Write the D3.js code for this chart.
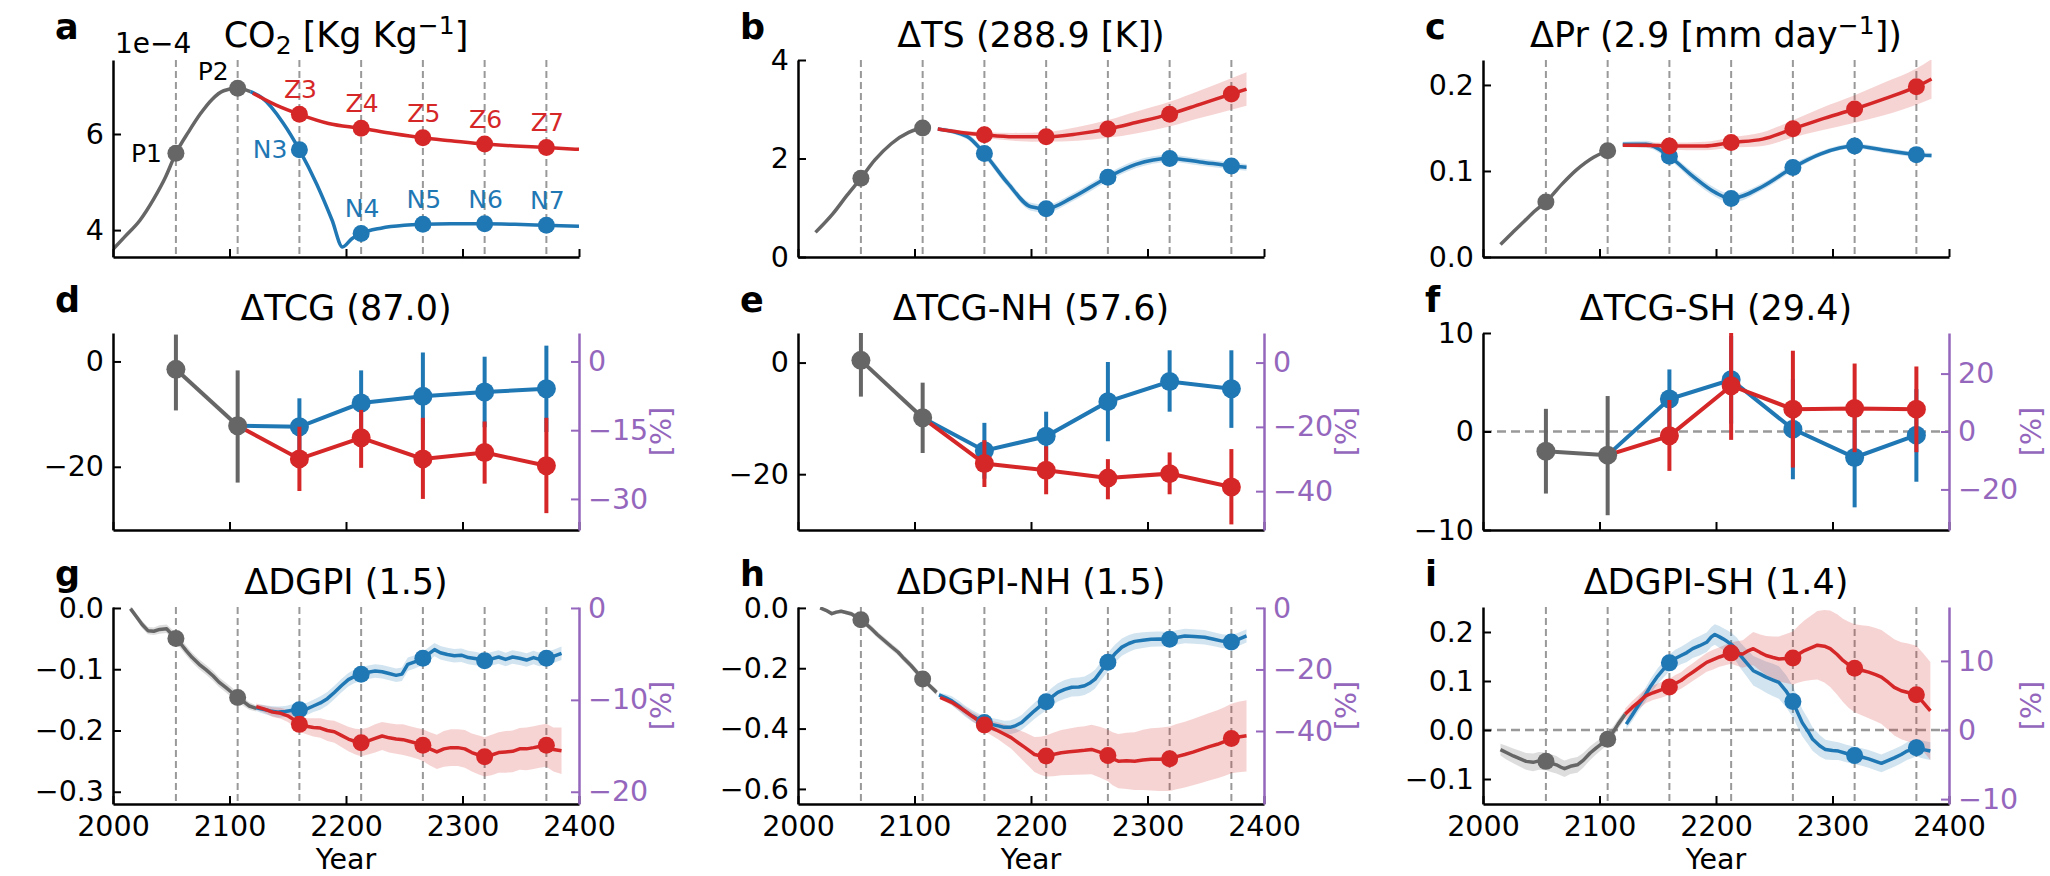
<!DOCTYPE html>
<html lang="en">
<head>
<meta charset="UTF-8">
<title>CO2 pathways: TS, Pr, TCG and DGPI</title>
<script src="https://d3js.org/d3.v7.min.js"></script>
<style>
  body { margin: 0; padding: 0; background: #fff; }
  svg { display: block; font-family: "DejaVu Sans", sans-serif; }
  .axis path, .axis line { stroke: #000; }
  .axis path { stroke-width: 2.5px; }
  .axis line { stroke-width: 2px; }
  .axis text { font-family: "DejaVu Sans", sans-serif; font-size: 28.5px; fill: #000; }
  .axis.pct path, .axis.pct line { stroke: #9467bd; }
  .axis.pct text { fill: #9467bd; }
</style>
</head>
<body>
<svg id="fig" width="2050" height="876"></svg>
<script>
// years of the marked 30-yr windows (P1, P2, 3..7)
const markYears = [2054, 2107, 2160, 2213, 2266, 2319, 2372];
const xTicks = [2000, 2100, 2200, 2300, 2400];

// a: CO2 [x1e-4 Kg/Kg]  [year, value]
const co2Gray = [[2000,3.6],[2010,3.86],[2023,4.2],[2035,4.65],[2045,5.1],[2054,5.6],[2065,6.05],[2075,6.42],[2085,6.72],[2095,6.9],[2107,6.95],[2118,6.88]];
const co2Red = [[2120,6.85],[2140,6.6],[2160,6.41],[2185,6.22],[2213,6.12],[2240,6.01],[2266,5.92],[2290,5.86],[2319,5.79],[2345,5.75],[2372,5.72],[2400,5.68]];
const co2Blue = [[2118,6.88],[2128,6.75],[2146,6.23],[2160,5.67],[2175,4.95],[2188,4.21],[2197,3.65],[2205,3.82],[2213,3.93],[2230,4.04],[2250,4.1],[2266,4.12],[2290,4.13],[2319,4.13],[2345,4.12],[2372,4.1],[2400,4.08]];
const co2GrayTags = ["P1", "P2"];
const co2RedTags = ["Z3", "Z4", "Z5", "Z6", "Z7"];
const co2BlueTags = ["N3", "N4", "N5", "N6", "N7"];

// b: surface temperature change [K]  [year, value, spread]
const tsGray = [[2015,0.5],[2030,0.88],[2042,1.25],[2054,1.6],[2066,1.97],[2080,2.3],[2095,2.53],[2107,2.62],[2114,2.63]];
const tsRed = [[2120,2.6,0.02],[2140,2.53,0.04],[2160,2.48,0.06],[2185,2.44,0.08],[2213,2.44,0.1],[2240,2.5,0.14],[2266,2.6,0.18],[2290,2.73,0.22],[2319,2.9,0.25],[2345,3.1,0.28],[2372,3.31,0.32],[2385,3.41,0.34]];
const tsBlue = [[2120,2.6,0.04],[2145,2.45,0.06],[2160,2.1,0.08],[2180,1.5,0.08],[2200,1.02,0.08],[2213,0.98,0.08],[2235,1.2,0.08],[2266,1.62,0.08],[2290,1.88,0.08],[2319,2.0,0.07],[2345,1.93,0.07],[2372,1.85,0.07],[2385,1.82,0.07]];

// c: precipitation change [mm/day]
const prGray = [[2015,0.0145],[2025,0.028],[2035,0.041],[2045,0.054],[2054,0.064],[2068,0.085],[2080,0.101],[2095,0.116],[2107,0.1235],[2113,0.127]];
const prRed = [[2120,0.13,0.002],[2140,0.13,0.003],[2160,0.129,0.004],[2190,0.129,0.005],[2213,0.133,0.006],[2240,0.137,0.008],[2266,0.149,0.01],[2290,0.16,0.013],[2319,0.172,0.016],[2345,0.184,0.019],[2372,0.198,0.021],[2385,0.207,0.023]];
const prBlue = [[2120,0.131,0.003],[2140,0.131,0.004],[2160,0.117,0.004],[2180,0.094,0.005],[2200,0.0745,0.005],[2213,0.068,0.005],[2240,0.082,0.004],[2266,0.104,0.004],[2290,0.12,0.003],[2319,0.129,0.003],[2345,0.124,0.003],[2372,0.119,0.003],[2385,0.118,0.003]];

// d-f: tropical cyclone genesis  [year, mean, low, high]
const tcgGray = [[2054,-1.5,-9.3,5.1],[2107,-12.2,-23.0,-1.7]];
const tcgBlue = [[2160,-12.4,-17.8,-7.0],[2213,-7.9,-14.1,-1.7],[2266,-6.6,-14.9,1.7],[2319,-5.8,-12.5,0.9],[2372,-5.2,-13.4,3.0]];
const tcgRed = [[2160,-18.5,-24.6,-12.4],[2213,-14.5,-20.2,-9.2],[2266,-18.5,-26.1,-10.7],[2319,-17.3,-23.2,-11.4],[2372,-19.8,-28.8,-10.7]];
const nhGray = [[2054,0.4,-6.1,6.6],[2107,-9.9,-16.2,-3.6]];
const nhBlue = [[2160,-15.8,-20.8,-10.8],[2213,-13.2,-17.6,-8.8],[2266,-7.0,-14.1,0.1],[2319,-3.4,-8.8,2.2],[2372,-4.7,-11.7,2.2]];
const nhRed = [[2160,-18.1,-22.3,-13.9],[2213,-19.3,-23.6,-15.0],[2266,-20.7,-24.5,-17.3],[2319,-19.9,-23.6,-16.1],[2372,-22.3,-29.0,-15.5]];
const shGray = [[2054,-2.0,-6.3,2.3],[2107,-2.4,-8.5,3.6]];
const shBlue = [[2160,3.3,0.3,6.3],[2213,5.25,0.8,9.7],[2266,0.24,-4.85,5.3],[2319,-2.64,-7.7,2.4],[2372,-0.37,-5.1,4.3]];
const shRed = [[2160,-0.44,-4.0,3.2],[2213,4.65,-0.85,10.2],[2266,2.27,-3.66,8.2],[2319,2.34,-2.1,6.9],[2372,2.27,-2.1,6.6]];

// g-i: DGPI running means  [year, value, spread]
const gpGray = [[2015,-0.001,0.004],[2020,-0.014,0.005],[2025,-0.027,0.006],[2030,-0.037,0.006],[2035,-0.038,0.006],[2040,-0.035,0.007],[2046,-0.034,0.007],[2050,-0.042,0.008],[2054,-0.05,0.008],[2058,-0.058,0.008],[2063,-0.07,0.008],[2068,-0.081,0.008],[2074,-0.092,0.008],[2080,-0.101,0.008],[2086,-0.111,0.008],[2091,-0.121,0.008],[2097,-0.13,0.008],[2102,-0.138,0.008],[2107,-0.146,0.008],[2112,-0.153,0.007],[2117,-0.16,0.006],[2123,-0.164,0.005]];
const gpBlue = [[2123,-0.163,0.005],[2128,-0.165,0.007],[2135,-0.168,0.008],[2142,-0.17,0.009],[2148,-0.169,0.009],[2154,-0.167,0.01],[2160,-0.166,0.01],[2166,-0.165,0.01],[2172,-0.16,0.01],[2178,-0.155,0.011],[2184,-0.148,0.011],[2190,-0.138,0.011],[2196,-0.127,0.011],[2202,-0.117,0.011],[2207,-0.112,0.011],[2213,-0.108,0.011],[2219,-0.105,0.011],[2225,-0.103,0.011],[2231,-0.104,0.011],[2237,-0.107,0.011],[2243,-0.11,0.011],[2248,-0.108,0.011],[2253,-0.092,0.011],[2259,-0.088,0.011],[2266,-0.082,0.011],[2271,-0.075,0.011],[2276,-0.068,0.011],[2281,-0.073,0.011],[2287,-0.076,0.011],[2293,-0.078,0.011],[2299,-0.077,0.011],[2305,-0.081,0.011],[2312,-0.083,0.011],[2319,-0.086,0.011],[2325,-0.083,0.011],[2331,-0.08,0.011],[2337,-0.084,0.011],[2343,-0.08,0.011],[2349,-0.082,0.011],[2355,-0.085,0.011],[2361,-0.081,0.011],[2366,-0.084,0.011],[2372,-0.082,0.011],[2378,-0.079,0.011],[2385,-0.074,0.011]];
const gpRed = [[2123,-0.161,0.005],[2130,-0.165,0.006],[2137,-0.17,0.008],[2144,-0.172,0.009],[2150,-0.176,0.01],[2155,-0.182,0.011],[2160,-0.19,0.012],[2166,-0.193,0.013],[2172,-0.195,0.015],[2178,-0.196,0.016],[2184,-0.2,0.017],[2190,-0.202,0.018],[2196,-0.208,0.019],[2202,-0.214,0.02],[2208,-0.218,0.021],[2213,-0.22,0.022],[2219,-0.217,0.022],[2225,-0.213,0.023],[2231,-0.209,0.023],[2237,-0.212,0.024],[2243,-0.214,0.024],[2249,-0.215,0.025],[2255,-0.218,0.025],[2261,-0.221,0.025],[2266,-0.224,0.026],[2272,-0.23,0.027],[2278,-0.235,0.028],[2284,-0.23,0.029],[2290,-0.228,0.03],[2296,-0.228,0.03],[2302,-0.23,0.031],[2308,-0.236,0.031],[2314,-0.24,0.032],[2319,-0.243,0.032],[2325,-0.24,0.033],[2331,-0.236,0.033],[2337,-0.235,0.034],[2343,-0.234,0.034],[2349,-0.23,0.034],[2355,-0.23,0.035],[2361,-0.228,0.035],[2366,-0.226,0.035],[2372,-0.224,0.035],[2378,-0.231,0.036],[2385,-0.233,0.038]];

const nhgpGray = [[2019,0.0,0.004],[2024,-0.008,0.005],[2029,-0.019,0.006],[2033,-0.014,0.006],[2037,-0.011,0.006],[2042,-0.016,0.007],[2046,-0.02,0.008],[2050,-0.03,0.009],[2054,-0.039,0.01],[2058,-0.052,0.01],[2063,-0.069,0.011],[2068,-0.088,0.011],[2074,-0.108,0.011],[2080,-0.128,0.011],[2086,-0.147,0.011],[2091,-0.168,0.011],[2097,-0.191,0.011],[2102,-0.213,0.011],[2107,-0.236,0.011],[2113,-0.258,0.01],[2119,-0.28,0.01]];
const nhgpBlue = [[2121,-0.288,0.008],[2127,-0.298,0.012],[2132,-0.308,0.015],[2138,-0.325,0.017],[2143,-0.341,0.018],[2149,-0.357,0.019],[2155,-0.37,0.02],[2160,-0.38,0.02],[2166,-0.386,0.021],[2172,-0.391,0.022],[2177,-0.396,0.022],[2182,-0.396,0.023],[2187,-0.39,0.024],[2192,-0.38,0.025],[2197,-0.362,0.026],[2203,-0.341,0.027],[2208,-0.325,0.028],[2213,-0.311,0.029],[2218,-0.295,0.03],[2223,-0.28,0.03],[2229,-0.27,0.031],[2235,-0.263,0.031],[2241,-0.262,0.031],[2246,-0.258,0.031],[2251,-0.248,0.031],[2255,-0.236,0.031],[2260,-0.21,0.031],[2266,-0.18,0.031],[2272,-0.152,0.03],[2278,-0.13,0.029],[2284,-0.118,0.028],[2289,-0.111,0.027],[2296,-0.107,0.026],[2303,-0.104,0.025],[2310,-0.103,0.025],[2319,-0.104,0.024],[2325,-0.098,0.024],[2332,-0.093,0.024],[2340,-0.095,0.024],[2349,-0.097,0.024],[2356,-0.103,0.023],[2364,-0.11,0.023],[2372,-0.113,0.023],[2378,-0.104,0.022],[2385,-0.093,0.022]];
const nhgpRed = [[2122,-0.297,0.006],[2127,-0.305,0.008],[2132,-0.313,0.01],[2138,-0.328,0.012],[2143,-0.341,0.013],[2149,-0.358,0.015],[2155,-0.374,0.017],[2160,-0.388,0.02],[2166,-0.398,0.024],[2172,-0.408,0.028],[2177,-0.418,0.032],[2183,-0.43,0.037],[2189,-0.447,0.043],[2195,-0.463,0.05],[2203,-0.486,0.058],[2208,-0.49,0.063],[2213,-0.491,0.068],[2219,-0.486,0.072],[2226,-0.48,0.075],[2233,-0.477,0.077],[2240,-0.474,0.079],[2246,-0.472,0.08],[2252,-0.469,0.082],[2259,-0.478,0.084],[2266,-0.489,0.086],[2270,-0.5,0.088],[2275,-0.508,0.09],[2282,-0.507,0.093],[2289,-0.508,0.096],[2296,-0.504,0.1],[2303,-0.502,0.103],[2310,-0.502,0.105],[2319,-0.5,0.107],[2325,-0.493,0.108],[2332,-0.486,0.109],[2339,-0.478,0.11],[2346,-0.469,0.111],[2353,-0.46,0.112],[2360,-0.452,0.113],[2366,-0.443,0.114],[2372,-0.433,0.115],[2378,-0.428,0.117],[2385,-0.424,0.118]];

const shgpGray = [[2015,-0.04,0.012],[2020,-0.046,0.014],[2026,-0.053,0.015],[2031,-0.058,0.016],[2037,-0.064,0.017],[2043,-0.066,0.018],[2048,-0.063,0.018],[2054,-0.064,0.018],[2059,-0.068,0.018],[2063,-0.071,0.018],[2067,-0.076,0.017],[2070,-0.079,0.017],[2075,-0.074,0.016],[2081,-0.071,0.016],[2086,-0.062,0.015],[2092,-0.047,0.014],[2097,-0.037,0.013],[2102,-0.028,0.012],[2107,-0.019,0.012],[2112,-0.003,0.011],[2116,0.012,0.01],[2122,0.032,0.009]];
const shgpBlue = [[2123,0.012,0.01],[2128,0.03,0.012],[2133,0.049,0.013],[2139,0.07,0.014],[2144,0.09,0.015],[2150,0.11,0.016],[2155,0.124,0.017],[2160,0.137,0.017],[2165,0.146,0.018],[2170,0.152,0.018],[2175,0.158,0.019],[2180,0.166,0.019],[2186,0.172,0.02],[2192,0.179,0.02],[2196,0.19,0.02],[2199,0.195,0.021],[2203,0.19,0.022],[2206,0.186,0.022],[2210,0.18,0.023],[2214,0.173,0.024],[2218,0.163,0.025],[2221,0.152,0.026],[2227,0.135,0.028],[2232,0.121,0.03],[2238,0.114,0.031],[2243,0.108,0.032],[2249,0.102,0.033],[2254,0.097,0.033],[2260,0.08,0.033],[2266,0.058,0.032],[2270,0.036,0.03],[2274,0.015,0.028],[2279,-0.003,0.026],[2283,-0.019,0.024],[2289,-0.032,0.022],[2294,-0.04,0.02],[2300,-0.042,0.019],[2305,-0.043,0.018],[2312,-0.048,0.018],[2319,-0.052,0.018],[2325,-0.055,0.018],[2331,-0.059,0.018],[2337,-0.064,0.018],[2342,-0.068,0.018],[2348,-0.062,0.018],[2353,-0.057,0.018],[2359,-0.05,0.018],[2364,-0.043,0.018],[2372,-0.036,0.018],[2378,-0.04,0.018],[2384,-0.043,0.018]];
const shgpRed = [[2122,0.032,0.012],[2128,0.046,0.013],[2133,0.056,0.014],[2140,0.07,0.015],[2146,0.076,0.015],[2153,0.082,0.016],[2160,0.088,0.016],[2165,0.095,0.017],[2170,0.101,0.017],[2175,0.11,0.018],[2180,0.118,0.018],[2186,0.128,0.019],[2192,0.138,0.019],[2197,0.143,0.02],[2203,0.149,0.02],[2208,0.153,0.021],[2213,0.157,0.022],[2218,0.156,0.025],[2223,0.155,0.028],[2228,0.162,0.031],[2232,0.166,0.034],[2238,0.158,0.037],[2243,0.152,0.04],[2249,0.148,0.043],[2254,0.145,0.046],[2260,0.146,0.05],[2266,0.147,0.054],[2271,0.155,0.058],[2276,0.162,0.062],[2282,0.168,0.066],[2287,0.173,0.07],[2293,0.171,0.074],[2298,0.166,0.078],[2304,0.154,0.082],[2309,0.142,0.085],[2314,0.133,0.088],[2319,0.126,0.09],[2325,0.122,0.092],[2331,0.118,0.094],[2337,0.113,0.095],[2342,0.108,0.096],[2348,0.097,0.097],[2353,0.087,0.098],[2359,0.08,0.099],[2364,0.077,0.1],[2372,0.072,0.1],[2378,0.056,0.1],[2384,0.039,0.1]];

const COL = { gray: "#666666", red: "#d62728", blue: "#1f77b4", purple: "#9467bd", guide: "#999999" };
const colX = [113, 798, 1483];
const rowY = [60, 333, 607];
const W = 466, H = 197;

const panels = [
  { id: "a", col: 0, row: 0, title: [["CO"], ["2", "sub"], [" [Kg Kg"], ["\u22121", "sup"], ["]"]],
    yDomain: [3.44, 7.54], yTicks: [4, 6], yFmt: "d", kind: "smooth", guides: true,
    gray: co2Gray, blue: co2Blue, red: co2Red },
  { id: "b", col: 1, row: 0, title: [["\u0394TS (288.9 [K])"]],
    yDomain: [0, 4], yTicks: [0, 2, 4], yFmt: "d", kind: "smooth", guides: true,
    gray: tsGray, blue: tsBlue, red: tsRed },
  { id: "c", col: 2, row: 0, title: [["\u0394Pr (2.9 [mm day"], ["\u22121", "sup"], ["])"]],
    yDomain: [0, 0.229], yTicks: [0, 0.1, 0.2], yFmt: ".1f", kind: "smooth", guides: true,
    gray: prGray, blue: prBlue, red: prRed },
  { id: "d", col: 0, row: 1, title: [["\u0394TCG (87.0)"]],
    yDomain: [-32, 5.4], yTicks: [-20, 0], yFmt: "d", kind: "points",
    pctBase: 87.0, pctTicks: [-30, -15, 0], gray: tcgGray, blue: tcgBlue, red: tcgRed },
  { id: "e", col: 1, row: 1, title: [["\u0394TCG-NH (57.6)"]],
    yDomain: [-30, 5.3], yTicks: [-20, 0], yFmt: "d", kind: "points",
    pctBase: 57.6, pctTicks: [-40, -20, 0], gray: nhGray, blue: nhBlue, red: nhRed },
  { id: "f", col: 2, row: 1, title: [["\u0394TCG-SH (29.4)"]],
    yDomain: [-10, 10], yTicks: [-10, 0, 10], yFmt: "d", kind: "points", zeroLine: true,
    pctBase: 29.4, pctTicks: [-20, 0, 20], gray: shGray, blue: shBlue, red: shRed },
  { id: "g", col: 0, row: 2, title: [["\u0394DGPI (1.5)"]],
    yDomain: [-0.32, 0.0016], yTicks: [-0.3, -0.2, -0.1, 0], yFmt: ".1f", kind: "noisy", guides: true,
    pctBase: 1.5, pctTicks: [-20, -10, 0], gray: gpGray, blue: gpBlue, red: gpRed },
  { id: "h", col: 1, row: 2, title: [["\u0394DGPI-NH (1.5)"]],
    yDomain: [-0.65, 0.003], yTicks: [-0.6, -0.4, -0.2, 0], yFmt: ".1f", kind: "noisy", guides: true,
    pctBase: 1.02, pctTicks: [-40, -20, 0], gray: nhgpGray, blue: nhgpBlue, red: nhgpRed },
  { id: "i", col: 2, row: 2, title: [["\u0394DGPI-SH (1.4)"]],
    yDomain: [-0.151, 0.251], yTicks: [-0.1, 0, 0.1, 0.2], yFmt: ".1f", kind: "noisy", guides: true, zeroLine: true,
    pctBase: 1.41, pctTicks: [-10, 0, 10], gray: shgpGray, blue: shgpBlue, red: shgpRed }
];

const svg = d3.select("#fig");
const x = d3.scaleLinear().domain([2000, 2400]).range([0, W]);
const isMark = d => markYears.includes(d[0]);

// where the CO2 labels sit relative to their marker
function tagPos(tag) {
  if (tag === "P1") return { dx: -14, dy: 9, anchor: "end" };
  if (tag === "N3") return { dx: -12, dy: 8, anchor: "end" };
  if (tag === "P2") return { dx: -9, dy: -8, anchor: "end" };
  return { dx: 1, dy: -16, anchor: "middle" };
}

panels.forEach(p => {
  const g = svg.append("g").attr("transform", `translate(${colX[p.col]},${rowY[p.row]})`);
  const y = d3.scaleLinear().domain(p.yDomain).range([H, 0]);

  g.append("clipPath").attr("id", "clip-" + p.id)
    .append("rect").attr("width", W).attr("height", H);
  const plot = g.append("g").attr("clip-path", `url(#clip-${p.id})`);

  // dashed guides at the window centres
  if (p.guides) {
    plot.selectAll("line.guide").data(markYears).join("line")
      .attr("class", "guide")
      .attr("x1", d => x(d)).attr("x2", d => x(d))
      .attr("y1", 0).attr("y2", H)
      .attr("stroke", COL.guide).attr("stroke-width", 2).attr("stroke-dasharray", "7,4");
  }
  if (p.zeroLine) {
    plot.append("line")
      .attr("x1", 0).attr("x2", W).attr("y1", y(0)).attr("y2", y(0))
      .attr("stroke", COL.guide).attr("stroke-width", 2.5).attr("stroke-dasharray", "9,5");
  }

  if (p.kind === "points") {
    const last = p.gray[p.gray.length - 1];
    ["blue", "red", "gray"].forEach(key => {
      const pts = p[key];
      const path = key === "gray" ? pts : [last].concat(pts);
      plot.selectAll(null).data(pts).join("line")
        .attr("x1", d => x(d[0])).attr("x2", d => x(d[0]))
        .attr("y1", d => y(d[2])).attr("y2", d => y(d[3]))
        .attr("stroke", COL[key]).attr("stroke-width", 4);
      plot.append("path").datum(path)
        .attr("fill", "none").attr("stroke", COL[key]).attr("stroke-width", 4)
        .attr("d", d3.line().x(d => x(d[0])).y(d => y(d[1])));
      plot.selectAll(null).data(pts).join("circle")
        .attr("cx", d => x(d[0])).attr("cy", d => y(d[1])).attr("r", 9.5)
        .attr("fill", COL[key]);
    });
  } else {
    const curve = p.kind === "smooth" ? d3.curveMonotoneX : d3.curveLinear;
    const keys = ["gray", "blue", "red"];
    keys.forEach(key => {
      const data = p[key];
      if (data[0].length > 2) {
        plot.append("path").datum(data)
          .attr("fill", COL[key]).attr("fill-opacity", key === "gray" ? 0.22 : 0.2)
          .attr("d", d3.area().x(d => x(d[0]))
            .y0(d => y(d[1] - d[2])).y1(d => y(d[1] + d[2])).curve(curve));
      }
    });
    keys.forEach(key => {
      plot.append("path").datum(p[key])
        .attr("fill", "none").attr("stroke", COL[key]).attr("stroke-width", 3.5)
        .attr("stroke-linejoin", "round")
        .attr("d", d3.line().x(d => x(d[0])).y(d => y(d[1])).curve(curve));
    });
    keys.forEach(key => {
      plot.selectAll(null).data(p[key].filter(isMark)).join("circle")
        .attr("cx", d => x(d[0])).attr("cy", d => y(d[1])).attr("r", 8.5)
        .attr("fill", COL[key]);
    });
  }

  // marker names for the CO2 panel
  if (p.id === "a") {
    [["gray", co2GrayTags, "#000"], ["red", co2RedTags, COL.red], ["blue", co2BlueTags, COL.blue]]
      .forEach(([key, tags, color]) => {
        p[key].filter(isMark).forEach((d, i) => {
          const t = tagPos(tags[i]);
          g.append("text")
            .attr("x", x(d[0]) + t.dx).attr("y", y(d[1]) + t.dy)
            .attr("text-anchor", t.anchor).attr("font-size", 25).attr("fill", color)
            .text(tags[i]);
        });
      });
    g.append("text").attr("x", 2).attr("y", -7).attr("font-size", 28).text("1e\u22124");
  }

  // axes (ticks point inward)
  g.append("g").attr("class", "axis").attr("transform", `translate(0,${H})`)
    .call(d3.axisBottom(x).tickValues(xTicks).tickSizeInner(-8).tickSizeOuter(0).tickPadding(12)
      .tickFormat(p.row === 2 ? d3.format("d") : () => ""));
  g.append("g").attr("class", "axis")
    .call(d3.axisLeft(y).tickValues(p.yTicks).tickSizeInner(-8).tickSizeOuter(0).tickPadding(9)
      .tickFormat(d3.format(p.yFmt)));

  if (p.pctBase) {
    const yR = d3.scaleLinear().domain(p.yDomain.map(v => v * 100 / p.pctBase)).range([H, 0]);
    g.append("g").attr("class", "axis pct").attr("transform", `translate(${W},0)`)
      .call(d3.axisRight(yR).tickValues(p.pctTicks).tickSizeInner(-8).tickSizeOuter(0).tickPadding(9)
        .tickFormat(d3.format("d")));
    g.append("text")
      .attr("transform", `translate(${W + 82},${H / 2}) rotate(-90)`)
      .attr("text-anchor", "middle").attr("dominant-baseline", "central")
      .attr("font-size", 28.5).attr("fill", COL.purple).text("[%]");
  }

  // title with sub/superscripts
  const title = g.append("text").attr("x", W / 2).attr("y", -13)
    .attr("text-anchor", "middle").attr("font-size", 35);
  let shift = 0;
  p.title.forEach(([txt, kind]) => {
    const target = kind === "sub" ? 7 : kind === "sup" ? -13 : 0;
    title.append("tspan")
      .attr("dy", target - shift)
      .attr("font-size", kind ? 25 : 35)
      .text(txt);
    shift = target;
  });

  g.append("text").attr("x", -58).attr("y", -21)
    .attr("font-size", 35).attr("font-weight", "bold").text(p.id);

  if (p.row === 2) {
    g.append("text").attr("x", W / 2).attr("y", H + 65)
      .attr("text-anchor", "middle").attr("font-size", 28.5).text("Year");
  }
});
</script>
</body>
</html>
